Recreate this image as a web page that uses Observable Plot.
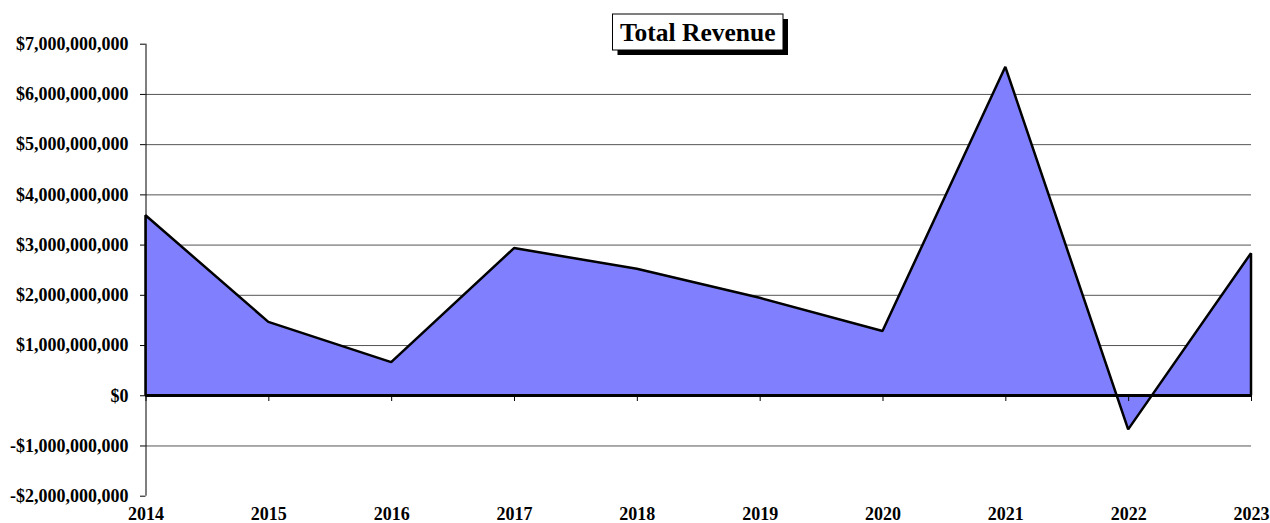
<!DOCTYPE html>
<html>
<head>
<meta charset="utf-8">
<script src="https://cdn.jsdelivr.net/npm/d3@7"></script>
<script src="https://cdn.jsdelivr.net/npm/@observablehq/plot@0.6"></script>
<style>
  html, body { margin: 0; padding: 0; background: #fff; }
  #chart { width: 1270px; height: 523px; overflow: hidden; }
</style>
</head>
<body>
<div id="chart"></div>
<script>
const years = [2014, 2015, 2016, 2017, 2018, 2019, 2020, 2021, 2022, 2023];
const revenue = [3.585e9, 1.46e9, 0.66e9, 2.93e9, 2.52e9, 1.94e9, 1.28e9, 6.54e9, -0.68e9, 2.83e9];
const yTicks = [-2e9, -1e9, 0, 1e9, 2e9, 3e9, 4e9, 5e9, 6e9, 7e9];
const gridValues = [-1e9, 1e9, 2e9, 3e9, 4e9, 5e9, 6e9];
const titleText = "Total Revenue";

const data = years.map((y, i) => ({year: y, value: revenue[i]}));
const fmtNum = d3.format(",");
const fmtDollar = v => (v < 0 ? "-$" + fmtNum(-v) : "$" + fmtNum(v));

const W = 1270, H = 523;
const mL = 145.5, mR = 19, mT = 43.7, mB = 27.3;
const font = "'Liberation Serif', 'Times New Roman', serif";

const plot = Plot.plot({
  width: W,
  height: H,
  marginLeft: mL,
  marginRight: mR,
  marginTop: mT,
  marginBottom: mB,
  style: {fontFamily: font, fontWeight: "bold", fontSize: "18px", color: "#000", background: "#fff"},
  x: {domain: [2014, 2023]},
  y: {domain: [-2e9, 7e9]},
  marks: [
    Plot.ruleY(gridValues, {stroke: "#555", strokeWidth: 1}),
    Plot.areaY(data, {x: "year", y: "value", fill: "#8080FF", stroke: "#000", strokeWidth: 2.5, strokeLinejoin: "miter"}),
    Plot.ruleY([0], {stroke: "#000", strokeWidth: 2.5}),
    Plot.ruleX(years, {x: d => d, y1: 0, y2: -1.15e8, stroke: "#000", strokeWidth: 1}),
    Plot.ruleX([2014], {stroke: "#000", strokeWidth: 1}),
    Plot.axisY({ticks: yTicks, tickFormat: fmtDollar, tickSize: 5.5, tickPadding: 12, stroke: "#000", strokeOpacity: 1, label: null, fontSize: 18}),
    Plot.axisX({anchor: "bottom", ticks: years, tickFormat: d => String(d), tickSize: 0, tickPadding: 11, label: null, fontSize: 18})
  ]
});

document.getElementById("chart").appendChild(plot);

// Title box with drop shadow
const svg = d3.select(plot);
const g = svg.append("g").attr("class", "title-box");
const bx = 612.5, by = 14, bw = 170.5, bh = 36, off = 5;
g.append("rect").attr("x", bx + off).attr("y", by + off).attr("width", bw).attr("height", bh).attr("fill", "#000");
g.append("rect").attr("x", bx).attr("y", by).attr("width", bw).attr("height", bh).attr("fill", "#fff").attr("stroke", "#000").attr("stroke-width", 1);
g.append("text")
  .attr("x", bx + bw / 2)
  .attr("y", by + bh / 2)
  .attr("dy", "0.35em")
  .attr("text-anchor", "middle")
  .attr("font-family", font)
  .attr("font-weight", "bold")
  .attr("font-size", 25.5)
  .attr("fill", "#000")
  .text(titleText);
</script>
</body>
</html>
